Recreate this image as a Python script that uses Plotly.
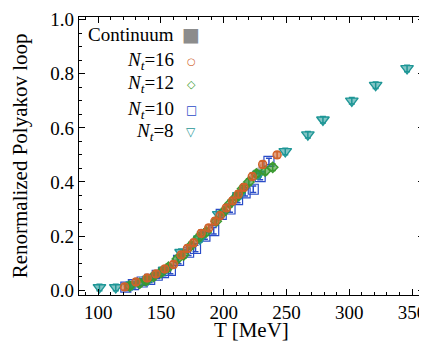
import plotly.graph_objects as go

# ---- data ----
T16 = [121, 130, 139, 146, 153, 160, 166, 171, 176, 182, 188, 193, 197, 202, 207, 211.6, 216, 222.7, 231, 242.5]
P16 = [0.012, 0.03, 0.045, 0.06, 0.078, 0.095, 0.13, 0.154, 0.175, 0.21, 0.23, 0.255, 0.275, 0.304, 0.33, 0.355, 0.38, 0.42, 0.465, 0.50]

T12 = [125, 133, 138, 144, 150, 156, 163, 168, 174, 180, 186, 194, 200, 205, 210, 215, 220, 226, 233, 239]
P12 = [0.015, 0.025, 0.035, 0.05, 0.065, 0.085, 0.115, 0.13, 0.165, 0.195, 0.215, 0.255, 0.29, 0.32, 0.345, 0.375, 0.40, 0.43, 0.44, 0.454]

T10 = [122, 128, 135, 141, 147, 152, 157.5, 164, 172, 177.5, 185, 192, 198, 205, 211, 217, 223.5, 229, 236]
P10 = [0.011, 0.02, 0.03, 0.04, 0.055, 0.065, 0.073, 0.11, 0.14, 0.154, 0.20, 0.22, 0.28, 0.30, 0.335, 0.36, 0.373, 0.42, 0.476]

T8 = [101, 114, 127, 140, 153, 166, 181, 196, 212, 228, 249, 267, 279, 302, 321, 346]
P8 = [0.01, 0.01, 0.02, 0.04, 0.075, 0.14, 0.19, 0.28, 0.35, 0.43, 0.513, 0.575, 0.63, 0.70, 0.758, 0.82]

Tc = [125, 140, 155, 170, 185, 200, 215, 230]
Pc = [0.018, 0.042, 0.08, 0.145, 0.21, 0.29, 0.38, 0.455]
Pc_err = [0.006, 0.006, 0.008, 0.01, 0.01, 0.012, 0.012, 0.014]

ERR = 0.012

legend_labels = ["Continuum", "<i>N</i><sub><i>t</i></sub>=16", "<i>N</i><sub><i>t</i></sub>=12",
                 "<i>N</i><sub><i>t</i></sub>=10", "<i>N</i><sub><i>t</i></sub>=8"]
legend_symbols = ["■", "○", "◇", "□", "▽"]
legend_symbol_sizes = [19, 10, 11, 12, 12]

C_GRAY = "#8c8c8c"
C_OR = "#d0622a"
C_GR = "#3a9a30"
C_BL = "#2a4cc8"
C_TE = "#1e9696"
legend_colors = [C_GRAY, C_OR, C_GR, C_BL, C_TE]

SERIF = "Liberation Serif"

fig = go.Figure()

# continuum band
fig.add_trace(go.Scatter(x=Tc + Tc[::-1],
                         y=[p + e for p, e in zip(Pc, Pc_err)] + [p - e for p, e in zip(Pc, Pc_err)][::-1],
                         fill="toself", fillcolor="rgba(140,140,140,0.6)", line=dict(width=0),
                         mode="lines", showlegend=False, hoverinfo="skip"))

def series(x, y, sym, color, fill, size, lw):
    fig.add_trace(go.Scatter(
        x=x, y=y, mode="markers", showlegend=False,
        marker=dict(symbol=sym, size=size, color=fill, line=dict(color=color, width=lw)),
        error_y=dict(type="constant", value=ERR, color=color, thickness=1.5, width=3)))

series(T10, P10, "square", C_BL, "rgba(255,255,255,0)", 10, 1.2)
series(T8, P8, "triangle-down", C_TE, "rgba(30,150,150,0.55)", 11, 1.4)
series(T12, P12, "diamond", C_GR, "rgba(58,154,48,0.6)", 8, 1.4)
series(T16, P16, "circle", C_OR, "rgba(208,98,42,0.6)", 8, 1.4)

# legend (text right-aligned, symbol to the right)
ys = [0.947, 0.846, 0.762, 0.667, 0.586]
for lab, sym, col, sz, yy in zip(legend_labels, legend_symbols, legend_colors, legend_symbol_sizes, ys):
    fig.add_annotation(x=0.28, y=yy, xref="paper", yref="y", text=lab, showarrow=False,
                       xanchor="right", yanchor="middle", font=dict(family=SERIF, size=19, color="black"))
    fig.add_annotation(x=0.326, y=yy, xref="paper", yref="y", text=sym, showarrow=False,
                       xanchor="center", yanchor="middle",
                       font=dict(family="DejaVu Sans", size=sz, color=col))

axis_common = dict(showline=True, linecolor="black", linewidth=1.2, mirror="ticks",
                   ticks="inside", ticklen=6, tickwidth=1, tickcolor="black",
                   showgrid=False, zeroline=False, ticklabeloverflow="allow",
                   tickfont=dict(family=SERIF, size=19, color="black"))

fig.update_xaxes(range=[84.7, 359.5], tickvals=[100, 150, 200, 250, 300, 350],
                 minor=dict(dtick=10, tick0=0, ticks="inside", ticklen=3, tickcolor="black"),
                 **axis_common)
fig.update_yaxes(range=[-0.018, 1.01], tickvals=[0.0, 0.2, 0.4, 0.6, 0.8, 1.0],
                 ticktext=["0.0", "0.2", "0.4", "0.6", "0.8", "1.0"],
                 minor=dict(dtick=0.05, tick0=0, ticks="inside", ticklen=3, tickcolor="black"),
                 **axis_common)

# axis titles as annotations for exact placement
fig.add_annotation(x=0.5, y=-0.125, xref="paper", yref="paper", text="T [MeV]", showarrow=False,
                   xanchor="center", yanchor="middle", font=dict(family=SERIF, size=21, color="black"))
fig.add_annotation(x=-0.17, y=0.5, xref="paper", yref="paper", text="Renormalized Polyakov loop",
                   showarrow=False, textangle=-90, xanchor="center", yanchor="middle",
                   font=dict(family=SERIF, size=21, color="black"))

# the page body has an 8px default margin, so the figure is sized to fill the rest of the window
fig.update_layout(width=419, height=342, margin=dict(l=71, r=1, t=6, b=55),
                  font=dict(family=SERIF, size=19, color="black"),
                  plot_bgcolor="white", paper_bgcolor="white", showlegend=False)

fig.write_html("out.html")
